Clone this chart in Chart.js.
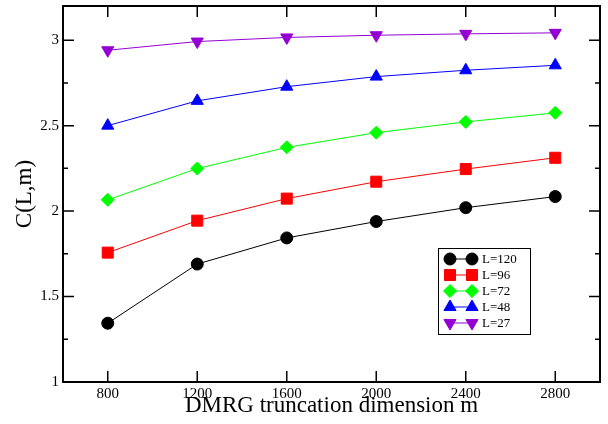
<!DOCTYPE html>
<html>
<head>
<meta charset="utf-8">
<script src="https://cdn.jsdelivr.net/npm/chart.js@4/dist/chart.umd.min.js"></script>
<style>
html,body{margin:0;padding:0;background:#fff;}
canvas{display:block;}
</style>
</head>
<body>
<canvas id="c" width="608" height="424"></canvas>
<script>
// ---- data ----
const mValues = [800, 1200, 1600, 2000, 2400, 2800];
const L120 = [1.344, 1.690, 1.843, 1.939, 2.020, 2.085];
const L96  = [1.757, 1.944, 2.073, 2.172, 2.246, 2.312];
const L72  = [2.066, 2.249, 2.373, 2.459, 2.522, 2.575];
const L48  = [2.500, 2.645, 2.728, 2.787, 2.824, 2.853];
const L27  = [2.941, 2.992, 3.016, 3.029, 3.037, 3.043];
const seriesLabels = ['L=120', 'L=96', 'L=72', 'L=48', 'L=27'];
const xTicks = [800, 1200, 1600, 2000, 2400, 2800];
const yTicks = [1, 1.5, 2, 2.5, 3];
const xTitle = 'DMRG truncation dimension m';
const yTitle = 'C(L,m)';

const SERIF = "'Liberation Serif','DejaVu Serif','Times New Roman',serif";

const styles = [
  {color: '#000000', pointStyle: 'circle', radius: 6, rotation: 0},
  {color: '#ff0000', pointStyle: 'rect', radius: 7.8, rotation: 0},
  {color: '#00ff00', pointStyle: 'rectRot', radius: 6.5, rotation: 0},
  {color: '#0000ff', pointStyle: 'triangle', radius: 7, rotation: 0},
  {color: '#9400d3', pointStyle: 'triangle', radius: 7, rotation: 180}
];
const allSeries = [L120, L96, L72, L48, L27];

const datasets = allSeries.map((vals, i) => ({
  label: seriesLabels[i],
  data: mValues.map((m, j) => ({x: m, y: vals[j]})),
  borderColor: styles[i].color,
  backgroundColor: styles[i].color,
  borderWidth: 1,
  pointStyle: styles[i].pointStyle,
  pointRadius: styles[i].radius,
  pointHoverRadius: styles[i].radius,
  pointRotation: styles[i].rotation,
  pointBorderWidth: 1,
  pointBorderColor: styles[i].color,
  pointBackgroundColor: styles[i].color,
  tension: 0,
  fill: false
}));

const frameTicks = {
  id: 'frameTicks',
  afterDatasetsDraw(chart) {
    const {ctx, chartArea: a, scales: {x, y}} = chart;
    ctx.save();
    ctx.strokeStyle = '#000';
    ctx.lineWidth = 1.5;
    const major = 11, minor = 5;
    ctx.beginPath();
    for (let i = 0; i < xTicks.length; i++) {
      const px = x.getPixelForValue(xTicks[i]);
      ctx.moveTo(px, a.bottom); ctx.lineTo(px, a.bottom - major);
      ctx.moveTo(px, a.top); ctx.lineTo(px, a.top + major);
    }
    const xStep = (xTicks[1] - xTicks[0]) / 2;
    for (let v = x.min + xStep; v < x.max; v += xStep * 2) {
      const px = x.getPixelForValue(v);
      ctx.moveTo(px, a.bottom); ctx.lineTo(px, a.bottom - minor);
      ctx.moveTo(px, a.top); ctx.lineTo(px, a.top + minor);
    }
    for (let i = 0; i < yTicks.length; i++) {
      const py = y.getPixelForValue(yTicks[i]);
      ctx.moveTo(a.left, py); ctx.lineTo(a.left + major, py);
      ctx.moveTo(a.right, py); ctx.lineTo(a.right - major, py);
    }
    const yStep = (yTicks[1] - yTicks[0]) / 2;
    for (let v = yTicks[0] + yStep; v < y.max; v += yStep * 2) {
      const py = y.getPixelForValue(v);
      ctx.moveTo(a.left, py); ctx.lineTo(a.left + minor, py);
      ctx.moveTo(a.right, py); ctx.lineTo(a.right - minor, py);
    }
    ctx.stroke();
    ctx.lineWidth = 2;
    ctx.strokeRect(a.left, a.top, a.right - a.left, a.bottom - a.top);
    ctx.restore();
  }
};

function drawMarker(ctx, st, px, py) {
  if (Chart.helpers && Chart.helpers.drawPoint) {
    Chart.helpers.drawPoint(ctx, {pointStyle: st.pointStyle, radius: st.radius, rotation: st.rotation, borderWidth: 1}, px, py);
  } else {
    ctx.beginPath();
    ctx.arc(px, py, st.radius, 0, Math.PI * 2);
    ctx.fill(); ctx.stroke();
  }
}

const boxLegend = {
  id: 'boxLegend',
  afterDraw(chart) {
    const {ctx} = chart;
    const bx = 438, by = 248, bw = 92, bh = 86;
    const rowY0 = 259, rowStep = 16;
    const m1 = 450, m2 = 472, tx = 482;
    ctx.save();
    ctx.fillStyle = '#fff';
    ctx.fillRect(bx, by, bw, bh);
    ctx.strokeStyle = '#000';
    ctx.lineWidth = 1;
    ctx.strokeRect(bx + 0.5, by + 0.5, bw, bh);
    ctx.font = '13px ' + SERIF;
    ctx.textBaseline = 'middle';
    ctx.textAlign = 'left';
    chart.data.datasets.forEach((ds, i) => {
      const st = styles[i];
      const yy = rowY0 + i * rowStep;
      ctx.strokeStyle = st.color;
      ctx.fillStyle = st.color;
      ctx.lineWidth = 1;
      ctx.beginPath();
      ctx.moveTo(m1, yy); ctx.lineTo(m2, yy);
      ctx.stroke();
      drawMarker(ctx, st, m1, yy);
      drawMarker(ctx, st, m2, yy);
      ctx.fillStyle = '#000';
      ctx.fillText(ds.label, tx, yy + 0.5);
    });
    ctx.restore();
  }
};

new Chart(document.getElementById('c'), {
  type: 'line',
  data: {datasets},
  options: {
    responsive: false,
    animation: false,
    devicePixelRatio: 1,
    layout: {autoPadding: false, padding: {top: 6, right: 8, left: 0, bottom: 0}},
    plugins: {legend: {display: false}, tooltip: {enabled: false}},
    scales: {
      x: {
        type: 'linear',
        min: 600, max: 3000,
        afterBuildTicks: s => { s.ticks = xTicks.map(v => ({value: v})); },
        afterFit: s => { s.height = 42; s.paddingLeft = 0; s.paddingRight = 0; },
        grid: {display: false, drawTicks: false},
        border: {display: false},
        ticks: {color: '#000', padding: 3, font: {family: SERIF, size: 15}, maxRotation: 0, autoSkip: false,
                callback: v => String(v)},
        title: {display: true, text: xTitle, color: '#000', font: {family: SERIF, size: 23}, padding: {top: 0, bottom: 4}}
      },
      y: {
        type: 'linear',
        min: 1, max: 3.2,
        afterBuildTicks: s => { s.ticks = yTicks.map(v => ({value: v})); },
        afterFit: s => { s.width = 63; s.paddingTop = 0; s.paddingBottom = 0; },
        grid: {display: false, drawTicks: false},
        border: {display: false},
        ticks: {color: '#000', padding: 4, font: {family: SERIF, size: 15}, autoSkip: false,
                callback: v => String(v)},
        title: {display: true, text: yTitle, color: '#000', font: {family: SERIF, size: 23}, padding: {top: 11, bottom: 0}}
      }
    }
  },
  plugins: [frameTicks, boxLegend]
});
</script>
</body>
</html>
